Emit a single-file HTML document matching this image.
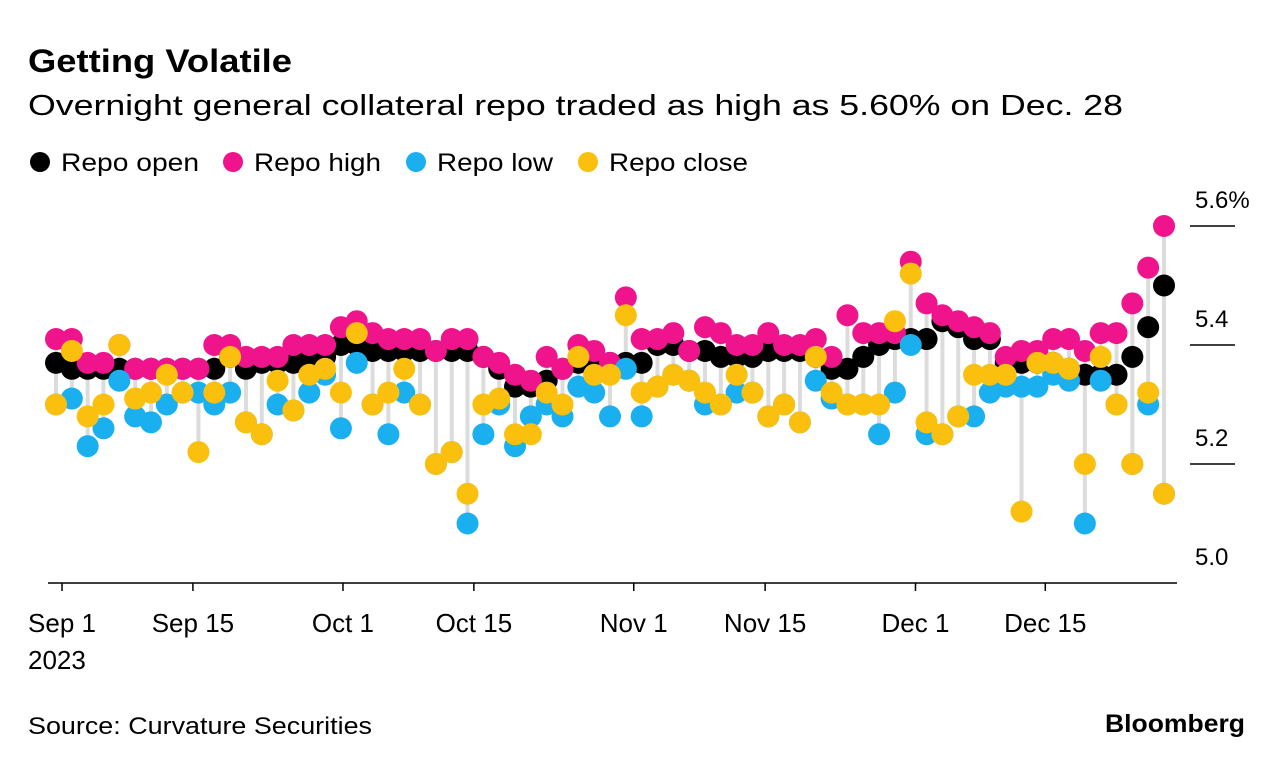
<!DOCTYPE html>
<html><head><meta charset="utf-8"><style>
body{margin:0;background:#fff;font-family:"Liberation Sans",Arial,sans-serif;}
</style></head><body>
<svg id="c" width="1285" height="768" xmlns="http://www.w3.org/2000/svg" font-family="Liberation Sans, Arial, sans-serif">
<text x="28" y="72" font-size="32" font-weight="bold" fill="#000" textLength="264" lengthAdjust="spacingAndGlyphs">Getting Volatile</text>
<text x="28" y="115" font-size="29" fill="#000" textLength="1095" lengthAdjust="spacingAndGlyphs">Overnight general collateral repo traded as high as 5.60% on Dec. 28</text>
<g>
<circle cx="40" cy="162" r="10" fill="#000"/><text x="61" y="171" font-size="25" textLength="138" lengthAdjust="spacingAndGlyphs">Repo open</text>
<circle cx="233" cy="162" r="10" fill="#f0148c"/><text x="254" y="171" font-size="25" textLength="127" lengthAdjust="spacingAndGlyphs">Repo high</text>
<circle cx="416" cy="162" r="10" fill="#1ab0f0"/><text x="437" y="171" font-size="25" textLength="116" lengthAdjust="spacingAndGlyphs">Repo low</text>
<circle cx="588" cy="162" r="10" fill="#fbbf0e"/><text x="609" y="171" font-size="25" textLength="139" lengthAdjust="spacingAndGlyphs">Repo close</text>
</g>
<g id="plot"></g>
<text x="28" y="734" font-size="24" textLength="344" lengthAdjust="spacingAndGlyphs">Source: Curvature Securities</text>
<text x="1105" y="732" font-size="25" font-weight="bold" textLength="140" lengthAdjust="spacingAndGlyphs">Bloomberg</text>
</svg>
<script>
const openV=[5.37,5.36,5.36,5.36,5.36,5.36,5.36,5.36,5.36,5.36,5.36,5.38,5.36,5.37,5.37,5.37,5.38,5.38,5.40,5.40,5.39,5.39,5.39,5.39,5.39,5.39,5.39,5.38,5.36,5.33,5.33,5.34,5.36,5.37,5.37,5.37,5.37,5.37,5.40,5.40,5.39,5.39,5.38,5.38,5.38,5.39,5.39,5.39,5.38,5.36,5.36,5.38,5.40,5.41,5.41,5.41,5.44,5.43,5.41,5.41,5.37,5.37,5.37,5.37,5.36,5.35,5.35,5.35,5.38,5.43,5.50];
const highV=[5.41,5.41,5.37,5.37,5.40,5.36,5.36,5.36,5.36,5.36,5.40,5.40,5.38,5.38,5.38,5.40,5.40,5.40,5.43,5.44,5.42,5.41,5.41,5.41,5.39,5.41,5.41,5.38,5.37,5.35,5.34,5.38,5.36,5.40,5.39,5.37,5.48,5.41,5.41,5.42,5.39,5.43,5.42,5.40,5.40,5.42,5.40,5.40,5.41,5.38,5.45,5.42,5.42,5.42,5.54,5.47,5.45,5.44,5.43,5.42,5.38,5.39,5.39,5.41,5.41,5.39,5.42,5.42,5.47,5.53,5.60];
const lowV=[5.30,5.31,5.23,5.26,5.34,5.28,5.27,5.30,5.32,5.32,5.30,5.32,5.27,5.25,5.30,5.29,5.32,5.35,5.26,5.37,5.30,5.25,5.32,5.30,5.20,5.22,5.10,5.25,5.30,5.23,5.28,5.30,5.28,5.33,5.32,5.28,5.36,5.28,5.33,5.35,5.34,5.30,5.30,5.32,5.32,5.28,5.30,5.27,5.34,5.31,5.30,5.30,5.25,5.32,5.40,5.25,5.25,5.28,5.28,5.32,5.33,5.33,5.33,5.35,5.34,5.10,5.34,5.30,5.20,5.30,5.15];
const closeV=[5.30,5.39,5.28,5.30,5.40,5.31,5.32,5.35,5.32,5.22,5.32,5.38,5.27,5.25,5.34,5.29,5.35,5.36,5.32,5.42,5.30,5.32,5.36,5.30,5.20,5.22,5.15,5.30,5.31,5.25,5.25,5.32,5.30,5.38,5.35,5.35,5.45,5.32,5.33,5.35,5.34,5.32,5.30,5.35,5.32,5.28,5.30,5.27,5.38,5.32,5.30,5.30,5.30,5.44,5.52,5.27,5.25,5.28,5.35,5.35,5.35,5.12,5.37,5.37,5.36,5.20,5.38,5.30,5.20,5.32,5.15];
const xTickLabels=["Sep 1","Sep 15","Oct 1","Oct 15","Nov 1","Nov 15","Dec 1","Dec 15"];
const xTickIdx=[0.38,8.65,18.13,26.4,36.5,44.8,54.3,62.5];
const yTicks=[5.0,5.2,5.4,5.6];
const yTickLabels=["5.0","5.2","5.4","5.6%"];

const N=openV.length;
const X0=56,X1=1164,Y0=583,PX=595;
function xs(i){return X0+i*(X1-X0)/(N-1);}
function ys(v){return Y0-(v-5.0)*PX;}
const NS="http://www.w3.org/2000/svg";
const plot=document.getElementById('plot');
function mk(tag,attrs,parent){const e=document.createElementNS(NS,tag);for(const k in attrs)e.setAttribute(k,attrs[k]);(parent||plot).appendChild(e);return e;}

yTicks.forEach((v,k)=>{
  const y=ys(v);
  if(v>5.0){
    const l=mk('line',{x1:1190,x2:1235,y1:y,y2:y,stroke:'#000','stroke-width':1.5});
    
    
  }
  const t=mk('text',{x:1195,y:y-18,'font-size':24,fill:'#000'});
  t.textContent=yTickLabels[k];
  
  
});
const base=mk('line',{x1:48,x2:1177,y1:Y0,y2:Y0,stroke:'#000','stroke-width':1.5});


xTickIdx.forEach((ix,k)=>{
  const x=xs(ix);
  const l=mk('line',{x1:x,x2:x,y1:Y0,y2:Y0+8,stroke:'#000','stroke-width':1.5});
  
  
  const t=mk('text',{x:x,y:632,'font-size':26,'text-anchor':'middle'});
  t.textContent=xTickLabels[k];
  
  
});
const yr=mk('text',{x:28,y:669,'font-size':26});
yr.textContent='2023';



for(let i=0;i<N;i++){
  const hi=Math.max(openV[i],highV[i],lowV[i],closeV[i]);
  const lo=Math.min(openV[i],highV[i],lowV[i],closeV[i]);
  const s=mk('line',{x1:xs(i),x2:xs(i),y1:ys(hi),y2:ys(lo),stroke:'#dcdcdc','stroke-width':4});
  
  
}
const series=[[openV,'#000','open'],[highV,'#f0148c','high'],[lowV,'#1ab0f0','low'],[closeV,'#fbbf0e','close']];
series.forEach(([arr,col,nm])=>{
  arr.forEach((v,i)=>{
    const c=mk('circle',{cx:xs(i),cy:ys(v),r:11,fill:col});
    
    
  });
});
</script>
</body></html>
